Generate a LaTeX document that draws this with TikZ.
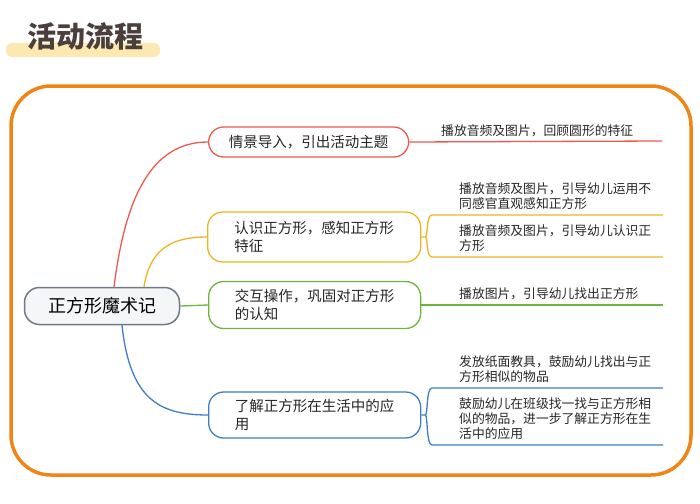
\documentclass[tikz,border=0pt]{standalone}
\usepackage{fontspec}
\setmainfont{Noto Sans CJK SC}
\begin{document}
\begin{tikzpicture}[x=1pt,y=-1pt,
  br/.style={draw=#1,line width=1.3pt,rounded corners=15pt,fill=white,minimum height=30pt,align=left,font=\fontsize{14.5}{18}\selectfont,text=black!85,inner xsep=10pt,text width=#1},
  br/.style={draw=#1,line width=1.3pt,rounded corners=15pt,fill=white,minimum height=30pt,align=left,font=\fontsize{14.5}{18}\selectfont,text=black!85,inner xsep=10pt},
  leaf/.style={anchor=south west,align=left,font=\fontsize{12.8}{15}\selectfont,text=black!85,inner sep=1pt},
  ln/.style={draw=#1,line width=1.3pt}]
\useasboundingbox (0,0) rectangle (700,503);
\definecolor{cr}{HTML}{EB5A4C}\definecolor{cy}{HTML}{F0B323}
\definecolor{cg}{HTML}{6DB33F}\definecolor{cb}{HTML}{3D7DCA}
\fill[fill={rgb,255:red,252;green,233;blue,178},rounded corners=6pt] (6,43) rectangle (160,57);
\node[font=\fontsize{29}{32}\selectfont\bfseries,text={rgb,255:red,74;green,63;blue,58}] (title) at (85,36) {活动流程};
\draw[line width=3.5pt,draw={rgb,255:red,238;green,133;blue,22},rounded corners=40pt] (11,86) rectangle (691,475);
\node[draw={rgb,255:red,110;green,122;blue,136},line width=1.5pt,fill={rgb,255:red,244;green,246;blue,248},rounded corners=15pt,minimum width=155pt,minimum height=37pt,font=\fontsize{18}{21}\selectfont] (root) at (102,306) {正方形魔术记};
% branch nodes
\node[br=cr,minimum width=200pt,anchor=west] (b1) at (208,142) {情景导入，引出活动主题};
\node[br=cy,minimum width=213pt,minimum height=50pt,anchor=west] (b2) at (207,237) {认识正方形，感知正方形\\特征};
\node[br=cg,minimum width=212pt,minimum height=47pt,anchor=west] (b3) at (208,305) {交互操作，巩固对正方形\\的认知};
\node[br=cb,minimum width=212pt,minimum height=46pt,anchor=west] (b4) at (208,415) {了解正方形在生活中的应\\用};
% root connectors
\draw[ln=cr] (root.north)++(12,0) coordinate (r1) .. controls (125,200) and (150,142) .. (b1.west);
\draw[ln=cy] (root.north)++(42,0) coordinate (r2) .. controls (150,250) and (170,237) .. (b2.west);
\draw[ln=cg] (root.east) -- (b3.west);
\draw[ln=cb] (root.south)++(20,0) coordinate (r4) .. controls (130,400) and (160,415) .. (b4.west);
% leaves
\coordinate (l1e) at (662,141);
\draw[ln=cr] (b1.east) -- (l1e);
\node[leaf] (t1) at (440,138) {播放音频及图片，回顾圆形的特征};
\coordinate (l2a) at (432,215); \coordinate (l2ae) at (663,215);
\coordinate (l2b) at (432,257); \coordinate (l2be) at (663,257);
\draw[ln=cy] (b2.east) -- ++(4,0) coordinate (f2) .. controls (428,237) and (426,215) .. (l2a) -- (l2ae);
\draw[ln=cy] (f2) .. controls (428,237) and (426,257) .. (l2b) -- (l2be);
\node[leaf] (t2a) at (458,211) {播放音频及图片，引导幼儿运用不\\同感官直观感知正方形};
\node[leaf] (t2b) at (458,253) {播放音频及图片，引导幼儿认识正\\方形};
\coordinate (l3e) at (663,305);
\draw[ln=cg] (b3.east) -- (l3e);
\node[leaf] (t3) at (458,301) {播放图片，引导幼儿找出正方形};
\coordinate (l4a) at (432,388); \coordinate (l4ae) at (663,388);
\coordinate (l4b) at (432,445); \coordinate (l4be) at (663,445);
\draw[ln=cb] (b4.east) -- ++(4,0) coordinate (f4) .. controls (428,415) and (426,388) .. (l4a) -- (l4ae);
\draw[ln=cb] (f4) .. controls (428,415) and (426,445) .. (l4b) -- (l4be);
\node[leaf] (t4a) at (458,384) {发放纸面教具，鼓励幼儿找出与正\\方形相似的物品};
\node[leaf] (t4b) at (458,441) {鼓励幼儿在班级找一找与正方形相\\似的物品，进一步了解正方形在生\\活中的应用};
\end{tikzpicture}
\end{document}
